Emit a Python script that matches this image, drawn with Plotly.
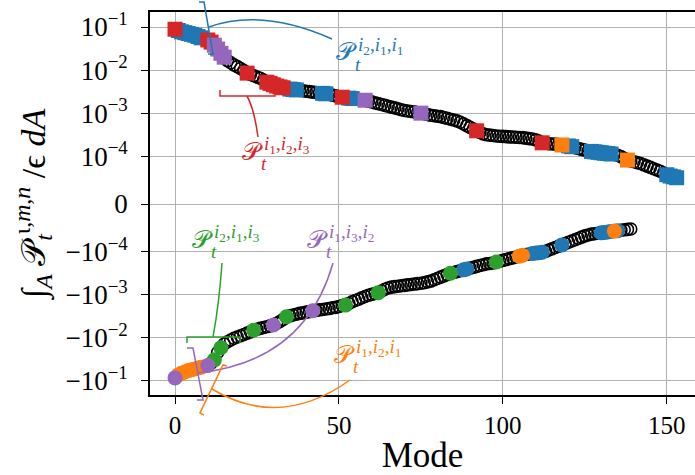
import math
import plotly.graph_objects as go

# ---------------------------------------------------------------------------
# Integrated triad transfer per mode, sorted by magnitude (rank = list index)
# ---------------------------------------------------------------------------
pos_vals = [
    0.0889, 0.0830, 0.0774, 0.0740, 0.0706, 0.0675, 0.0644, 0.0601, 0.0561, 0.0524,
    0.0500, 0.0446, 0.0379, 0.0308, 0.0245, 0.0199, 0.0166, 0.0148, 0.0132, 0.0120,
    0.0109, 0.00975, 0.00849, 0.00793, 0.00740, 0.00690, 0.00644, 0.00587, 0.00524, 0.00489,
    0.00456, 0.00426, 0.00406, 0.00388, 0.00371, 0.00362, 0.00354, 0.00346, 0.00338, 0.00330,
    0.00323, 0.00315, 0.00308, 0.00301, 0.00294, 0.00288, 0.00281, 0.00275, 0.00262, 0.00251,
    0.00239, 0.00234, 0.00229, 0.00223, 0.00218, 0.00213, 0.00208, 0.00204, 0.00199, 0.00190,
    0.00182, 0.00173, 0.00166, 0.00158, 0.00151, 0.00144, 0.00138, 0.00132, 0.00126, 0.00120,
    0.00115, 0.00112, 0.00109, 0.00107, 0.00102, 0.000998, 0.000975, 0.000931, 0.000889, 0.000869,
    0.000849, 0.000830, 0.000793, 0.000757, 0.000723, 0.000690, 0.000659, 0.000615, 0.000561, 0.000512,
    0.000467, 0.000426, 0.000388, 0.000354, 0.000330, 0.000315, 0.000308, 0.000301, 0.000294, 0.000291,
    0.000288, 0.000284, 0.000281, 0.000278, 0.000275, 0.000272, 0.000269, 0.000262, 0.000256, 0.000251,
    0.000239, 0.000223, 0.000204, 0.000199, 0.000195, 0.000192, 0.000190, 0.000186, 0.000182, 0.000177,
    0.000173, 0.000166, 0.000158, 0.000151, 0.000144, 0.000138, 0.000132, 0.000129, 0.000126, 0.000123,
    0.000120, 0.000117, 0.000115, 0.000112, 0.000109, 0.000105, 0.0000990, 0.0000954, 0.0000918, 0.0000900,
    0.0000882, 0.0000864, 0.0000846, 0.0000819, 0.0000792, 0.0000765, 0.0000738, 0.0000711, 0.0000684, 0.0000648,
    0.0000612, 0.0000585, 0.0000567, 0.0000549,
]

neg_vals = [
    -0.0849, -0.0723, -0.0659, -0.0615, -0.0574, -0.0548, -0.0524, -0.0500, -0.0478, -0.0456,
    -0.0436, -0.0388, -0.0323, -0.0218, -0.0169, -0.0138, -0.0123, -0.0112, -0.0102, -0.00953,
    -0.00889, -0.00830, -0.00774, -0.00723, -0.00659, -0.00630, -0.00601, -0.00574, -0.00548, -0.00524,
    -0.00500, -0.00456, -0.00416, -0.00371, -0.00323, -0.00308, -0.00294, -0.00281, -0.00269, -0.00262,
    -0.00251, -0.00245, -0.00234, -0.00229, -0.00223, -0.00218, -0.00213, -0.00208, -0.00199, -0.00195,
    -0.00186, -0.00177, -0.00173, -0.00158, -0.00144, -0.00135, -0.00126, -0.00117, -0.00109, -0.00102,
    -0.000975, -0.000931, -0.000889, -0.000811, -0.000740, -0.000690, -0.000659, -0.000644, -0.000630, -0.000615,
    -0.000601, -0.000587, -0.000574, -0.000561, -0.000548, -0.000536, -0.000524, -0.000500, -0.000478, -0.000446,
    -0.000416, -0.000388, -0.000362, -0.000338, -0.000315, -0.000301, -0.000288, -0.000275, -0.000262, -0.000251,
    -0.000239, -0.000229, -0.000218, -0.000208, -0.000199, -0.000190, -0.000186, -0.000182, -0.000173, -0.000166,
    -0.000158, -0.000151, -0.000144, -0.000138, -0.000132, -0.000126, -0.000120, -0.000115, -0.000112, -0.000109,
    -0.000107, -0.000105, -0.000102, -0.0000990, -0.0000963, -0.0000936, -0.0000909, -0.0000882, -0.0000855, -0.0000828,
    -0.0000801, -0.0000774, -0.0000747, -0.0000720, -0.0000693, -0.0000666, -0.0000648, -0.0000630, -0.0000621, -0.0000612,
    -0.0000603, -0.0000594, -0.0000585, -0.0000576, -0.0000567, -0.0000558, -0.0000549, -0.0000540, -0.0000531, -0.0000522,
]

# Ranks belonging to each triad type (positive side / negative side)
pos_i2i1i1 = [1, 2, 3, 4, 5, 6, 7, 8, 35, 36, 37, 45, 46, 53, 54, 120, 121,
              127, 128, 129, 130, 131, 132, 133, 150, 151, 152, 153]
pos_i1i2i1 = [118, 138]
pos_i2i1i3 = []
pos_i1i2i3 = [0, 10, 11, 22, 28, 29, 30, 31, 32, 33, 51, 92, 112]
pos_i1i3i2 = [12, 13, 14, 15, 58, 75]

neg_i2i1i1 = [88, 89, 109, 110, 111, 112, 118, 130, 131, 132, 133, 135]
neg_i1i2i1 = [1, 2, 3, 4, 5, 6, 7, 8, 105, 106, 134]
neg_i2i1i3 = [12, 14, 24, 34, 52, 62, 84, 98]
neg_i1i2i3 = []
neg_i1i3i2 = [0, 10, 30, 42]

x_ticks = [0, 50, 100, 150]
y_ticks = [-1e-1, -1e-2, -1e-3, -1e-4, 0, 1e-4, 1e-3, 1e-2, 1e-1]
y_tick_text = ["−10<sup>−1</sup>", "−10<sup>−2</sup>", "−10<sup>−3</sup>", "−10<sup>−4</sup>", "0",
               "10<sup>−4</sup>", "10<sup>−3</sup>", "10<sup>−2</sup>", "10<sup>−1</sup>"]

# ---------------------------------------------------------------------------
# symmetric-log scale (linear inside +-1e-4, base-10 log outside)
# ---------------------------------------------------------------------------
LINTHRESH = 1e-4
LINSCALE = 1.0 / (1.0 - 1.0 / 10.0)


def symlog(v):
    a = abs(v)
    if a <= LINTHRESH:
        return v / LINTHRESH * LINSCALE
    return math.copysign(LINSCALE + math.log10(a / LINTHRESH), v)


SERIF = "Liberation Serif, DejaVu Serif, serif"

fig = go.Figure()

ring = dict(symbol="circle-open", size=12, color="black", line=dict(width=1.6, color="black"))
fig.add_trace(go.Scatter(
    x=list(range(len(pos_vals))), y=[symlog(v) for v in pos_vals], mode="markers",
    marker=ring, hoverinfo="skip", showlegend=False))
fig.add_trace(go.Scatter(
    x=list(range(len(neg_vals))), y=[symlog(v) for v in neg_vals], mode="markers",
    marker=ring, hoverinfo="skip", showlegend=False))

categories = [
    ("#1f77b4", pos_i2i1i1, neg_i2i1i1),
    ("#ff7f0e", pos_i1i2i1, neg_i1i2i1),
    ("#2ca02c", pos_i2i1i3, neg_i2i1i3),
    ("#d62728", pos_i1i2i3, neg_i1i2i3),
    ("#9467bd", pos_i1i3i2, neg_i1i3i2),
]
for color, pidx, nidx in categories:
    if pidx:
        fig.add_trace(go.Scatter(
            x=pidx, y=[symlog(pos_vals[i]) for i in pidx], mode="markers",
            marker=dict(symbol="square", size=15, color=color, line=dict(width=0)),
            hoverinfo="skip", showlegend=False))
    if nidx:
        fig.add_trace(go.Scatter(
            x=nidx, y=[symlog(neg_vals[i]) for i in nidx], mode="markers",
            marker=dict(symbol="circle", size=15, color=color, line=dict(width=0)),
            hoverinfo="skip", showlegend=False))

# ---------------------------------------------------------------------------
# frame geometry (pixels) -> paper coordinates for the callouts
# ---------------------------------------------------------------------------
W, H = 695, 475
L, R, T, B = 150, 695, 12, 395


def X(p):
    return (p - L) / (R - L)


def Y(p):
    return (B - p) / (B - T)


def path(*pts_cmds):
    out = []
    for item in pts_cmds:
        if isinstance(item, str):
            out.append(item)
        else:
            out.append(f"{X(item[0]):.5f},{Y(item[1]):.5f}")
    return " ".join(out)


shapes = []


def add_path(d, color):
    shapes.append(dict(type="path", path=d, xref="paper", yref="paper",
                       line=dict(color=color, width=1.5), layer="above"))


# blue callout: arc + vertical bracket
add_path(path("M", (332, 39), "Q", (262, 8), (209, 27)), "#1f77b4")
add_path(path("M", (199, 2), "L", (204, 2), "L", (213, 54), "L", (208, 54)), "#1f77b4")
# red callout: short bend + horizontal bracket
add_path(path("M", (258, 137), "Q", (254, 108), (247, 96)), "#d62728")
add_path(path("M", (220, 90), "L", (220, 96), "L", (275, 96), "L", (275, 90)), "#d62728")
# green callout
add_path(path("M", (222, 263), "Q", (219, 305), (213, 337)), "#2ca02c")
add_path(path("M", (187, 343), "L", (187, 337), "L", (240, 337), "L", (240, 343)), "#2ca02c")
# purple callout
add_path(path("M", (333, 263), "Q", (305, 362), (197, 373)), "#9467bd")
add_path(path("M", (187, 348), "L", (193, 348), "L", (203, 400), "L", (197, 400)), "#9467bd")
# orange callout
add_path(path("M", (350, 380), "Q", (280, 430), (212, 389)), "#ff7f0e")
add_path(path("M", (227, 366), "L", (223, 365), "L", (200, 413), "L", (204, 415)), "#ff7f0e")

annotations = []


def add_label(px_left, py_mid, sup, color):
    annotations.append(dict(text="𝒫", x=X(px_left), y=Y(py_mid), xref="paper", yref="paper",
                            xanchor="left", yanchor="middle", showarrow=False,
                            font=dict(size=25, color=color, family=SERIF)))
    annotations.append(dict(text=sup, x=X(px_left + 22), y=Y(py_mid - 6), xref="paper", yref="paper",
                            xanchor="left", yanchor="middle", showarrow=False,
                            font=dict(size=19, color=color, family=SERIF)))
    annotations.append(dict(text="<i>t</i>", x=X(px_left + 19), y=Y(py_mid + 12), xref="paper",
                            yref="paper", xanchor="left", yanchor="middle", showarrow=False,
                            font=dict(size=19, color=color, family=SERIF)))


def idx(a, b, c):
    return f"<i>i</i><sub>{a}</sub>,<i>i</i><sub>{b}</sub>,<i>i</i><sub>{c}</sub>"


add_label(334, 52, idx(2, 1, 1), "#1f77b4")
add_label(240, 151, idx(1, 2, 3), "#d62728")
add_label(190, 239, idx(2, 1, 3), "#2ca02c")
add_label(305, 239, idx(1, 3, 2), "#9467bd")
add_label(332, 354, idx(1, 2, 1), "#ff7f0e")

fig.update_layout(
    width=W, height=H,
    margin=dict(l=L, r=W - R, t=T, b=H - B, pad=0),
    paper_bgcolor="white", plot_bgcolor="white",
    font=dict(family=SERIF, color="black"),
    shapes=shapes, annotations=annotations,
    showlegend=False,
)

fig.update_xaxes(
    range=[-7.63, 158.6], tickvals=x_ticks, ticktext=[str(v) for v in x_ticks],
    showgrid=True, gridcolor="#b0b0b0", gridwidth=1.2, zeroline=False,
    showline=True, linecolor="black", linewidth=1.6, mirror=True,
    ticks="outside", ticklen=7, tickwidth=1.4, tickcolor="black",
    tickfont=dict(size=25, family=SERIF),
    title=dict(text="Mode", font=dict(size=35, family=SERIF), standoff=6),
)
fig.update_yaxes(
    range=[-4.437, 4.46], tickvals=[symlog(v) for v in y_ticks], ticktext=y_tick_text,
    showgrid=True, gridcolor="#b0b0b0", gridwidth=1.2, zeroline=False,
    showline=True, linecolor="black", linewidth=1.6, mirror=False,
    ticks="outside", ticklen=7, tickwidth=1.4, tickcolor="black",
    ticklabelstandoff=8,
    tickfont=dict(size=27, family=SERIF),
    title=dict(text="∫<sub><i>A</i></sub> 𝒫<sub><i>t</i></sub><sup>ι,<i>m</i>,<i>n</i></sup> /ϵ <i>dA</i>",
               font=dict(size=34, family=SERIF), standoff=10),
)

fig.write_html("out.html")
